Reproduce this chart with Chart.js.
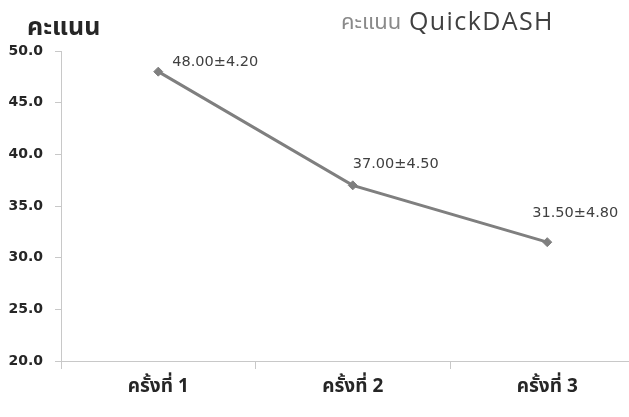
<!DOCTYPE html>
<html>
<head>
<meta charset="utf-8">
<script src="https://cdn.jsdelivr.net/npm/chart.js@4.4.1/dist/chart.umd.min.js"></script>
<style>
  html, body { margin: 0; padding: 0; background: #ffffff; overflow: hidden; }
  #wrap { width: 650px; height: 417px; }
</style>
</head>
<body>
<div id="wrap"><canvas id="chart" width="650" height="417"></canvas></div>
<script>
// QuickDASH score per visit: mean and standard deviation
const categories = ['ครั้งที่ 1', 'ครั้งที่ 2', 'ครั้งที่ 3'];
const meanScores = [48.00, 37.00, 31.50];
const sdScores = [4.20, 4.50, 4.80];
const yMin = 20;
const yMax = 50;
const yStep = 5;
const axisTitle = 'คะแนน';
const titleThai = 'คะแนน';
const titleLatin = 'QuickDASH';

const THAI = "Tahoma, 'Noto Sans Thai', 'Noto Sans Thai Looped', 'DejaVu Sans', sans-serif";

// mean ± SD labels, placed beside each point
const labelOffsets = [[14, -9], [0, -21], [-15, -29]];

const annotate = {
  id: 'annotate',
  afterDraw(chart) {
    const ctx = chart.ctx;
    ctx.save();

    // vertical axis caption
    ctx.font = "bold 25px " + THAI;
    ctx.fillStyle = '#262626';
    ctx.textAlign = 'left';
    ctx.textBaseline = 'alphabetic';
    ctx.fillText(axisTitle, 27, 35);

    // two-tone chart title
    ctx.font = "22px " + THAI;
    ctx.fillStyle = '#8a8a8a';
    ctx.fillText(titleThai, 341, 29);
    ctx.font = "25px 'Open Sans', sans-serif";
    ctx.fillStyle = '#404040';
    ctx.letterSpacing = '1.4px';
    ctx.fillText(titleLatin, 409, 29.5);
    ctx.letterSpacing = '0px';

    // value labels
    const meta = chart.getDatasetMeta(0);
    ctx.font = "14.5px 'DejaVu Sans', sans-serif";
    ctx.fillStyle = '#404040';
    ctx.textBaseline = 'middle';
    meta.data.forEach((pt, i) => {
      const txt = meanScores[i].toFixed(2) + '±' + sdScores[i].toFixed(2);
      const off = labelOffsets[i];
      ctx.fillText(txt, pt.x + off[0], pt.y + off[1]);
    });
    ctx.restore();
  }
};

new Chart(document.getElementById('chart'), {
  type: 'line',
  data: {
    labels: categories,
    datasets: [{
      data: meanScores,
      borderColor: '#7f7f7f',
      backgroundColor: '#7f7f7f',
      borderWidth: 3,
      tension: 0,
      pointStyle: 'rectRot',
      pointRadius: 4.5,
      pointBackgroundColor: '#7f7f7f',
      pointBorderColor: '#7f7f7f',
      pointBorderWidth: 1
    }]
  },
  options: {
    responsive: false,
    animation: false,
    events: [],
    layout: { padding: { top: 51, right: 2.5, bottom: 0, left: 0 } },
    plugins: {
      legend: { display: false },
      tooltip: { enabled: false },
      title: { display: false }
    },
    scales: {
      x: {
        type: 'category',
        offset: true,
        afterFit(scale) { scale.height = 56; },
        border: { display: true, color: '#c8c8c8', width: 1 },
        grid: {
          offset: true,
          drawOnChartArea: false,
          drawTicks: true,
          tickLength: 8,
          color: '#c8c8c8'
        },
        ticks: {
          color: '#262626',
          padding: 8,
          font: { family: THAI, size: 19, weight: 'bold' }
        }
      },
      y: {
        min: yMin,
        max: yMax,
        afterFit(scale) { scale.width = 61; },
        border: { display: true, color: '#c8c8c8', width: 1 },
        grid: {
          drawOnChartArea: false,
          drawTicks: true,
          tickLength: 6,
          color: '#c8c8c8'
        },
        ticks: {
          stepSize: yStep,
          padding: 12,
          color: '#262626',
          font: { family: "'DejaVu Sans', sans-serif", size: 14, weight: 'bold' },
          callback: (v) => Number(v).toFixed(1)
        }
      }
    }
  },
  plugins: [annotate]
});
</script>
</body>
</html>
